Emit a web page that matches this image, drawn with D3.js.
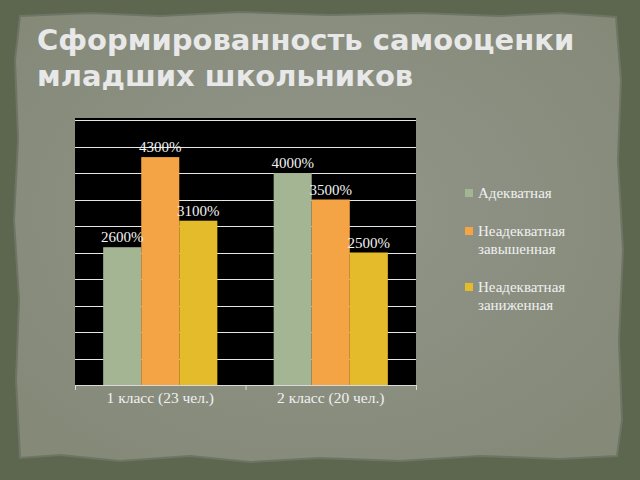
<!DOCTYPE html>
<html>
<head>
<meta charset="utf-8">
<script src="https://cdn.jsdelivr.net/npm/d3@7"></script>
<style>
  html, body { margin: 0; padding: 0; background: #5c654f; }
  svg { display: block; }
</style>
</head>
<body>
<div id="chart"></div>
<script>
const categories = ['1 класс (23 чел.)', '2 класс (20 чел.)'];
const seriesNames = ['Адекватная', 'Неадекватная завышенная', 'Неадекватная заниженная'];
const legendLines = [['Адекватная'], ['Неадекватная', 'завышенная'], ['Неадекватная', 'заниженная']];
const adequate = [26, 40];
const overrated = [43, 35];
const underrated = [31, 25];
const yTicks = [0, 5, 10, 15, 20, 25, 30, 35, 40, 45, 50];

const colors = ['#a3b592', '#f4a345', '#e3bb2b'];
const W = 640;
const H = 480;
const plot = { left: 75, right: 416, top: 120, bottom: 385 };

const svg = d3.select('#chart')
  .append('svg')
  .attr('width', W)
  .attr('height', H);

// slide background: dark frame + torn paper
const defs = svg.append('defs');
const grad = defs.append('radialGradient')
  .attr('id', 'paper')
  .attr('cx', '50%').attr('cy', '45%').attr('r', '65%');
grad.append('stop').attr('offset', '0%').attr('stop-color', '#92968b');
grad.append('stop').attr('offset', '100%').attr('stop-color', '#848978');

svg.append('rect')
  .attr('width', W).attr('height', H)
  .attr('fill', '#5d664f');

const paperEdge = 'M20,16 L90,13 L160,16 L240,12 L330,15 L420,13 L500,16 L560,13 L616,17 '
  + 'L621,80 L618,160 L623,250 L619,340 L622,420 L617,456 '
  + 'L560,459 L480,456 L400,461 L320,458 L250,462 L190,456 L120,461 L60,455 L20,458 '
  + 'L16,380 L19,300 L14,220 L18,140 L15,60 Z';
svg.append('path')
  .attr('d', paperEdge)
  .attr('fill', 'url(#paper)')
  .attr('stroke', '#6e7564')
  .attr('stroke-width', 2);

svg.append('text')
  .attr('x', 37)
  .attr('y', 50)
  .attr('fill', '#e8e8e8')
  .style('font-family', 'DejaVu Sans')
  .style('font-weight', 'bold')
  .style('font-size', '29px')
  .selectAll('tspan')
  .data(['Сформированность самооценки', 'младших школьников'])
  .enter()
  .append('tspan')
  .attr('x', 37)
  .attr('dy', (d, i) => (i === 0 ? 0 : 36))
  .text((d) => d);

const x0 = d3.scaleBand()
  .domain(categories)
  .range([plot.left, plot.right])
  .paddingInner(0)
  .paddingOuter(0);

const x1 = d3.scaleBand()
  .domain(seriesNames)
  .range([0, x0.bandwidth()])
  .paddingOuter(0.74)
  .paddingInner(0);

const y = d3.scaleLinear()
  .domain([0, 50])
  .range([plot.bottom, plot.top]);

svg.append('rect')
  .attr('x', plot.left)
  .attr('y', plot.top - 2)
  .attr('width', plot.right - plot.left)
  .attr('height', plot.bottom - plot.top + 2)
  .attr('fill', '#000');

svg.append('g')
  .selectAll('line')
  .data(yTicks.slice(1))
  .enter()
  .append('line')
  .attr('x1', plot.left)
  .attr('x2', plot.right)
  .attr('y1', (d) => Math.round(y(d)) + 0.5)
  .attr('y2', (d) => Math.round(y(d)) + 0.5)
  .attr('stroke', '#e6e6e6')
  .attr('stroke-width', 1);

const rows = categories.map((c, i) => ({
  category: c,
  values: [adequate[i], overrated[i], underrated[i]],
}));

const groups = svg.append('g')
  .selectAll('g')
  .data(rows)
  .enter()
  .append('g')
  .attr('transform', (d) => `translate(${x0(d.category)},0)`);

groups.selectAll('rect')
  .data((d) => d.values.map((v, j) => ({ name: seriesNames[j], value: v, j })))
  .enter()
  .append('rect')
  .attr('x', (d) => x1(d.name))
  .attr('y', (d) => y(d.value))
  .attr('width', x1.bandwidth())
  .attr('height', (d) => y(0) - y(d.value))
  .attr('fill', (d) => colors[d.j]);

groups.selectAll('text')
  .data((d) => d.values.map((v, j) => ({ name: seriesNames[j], value: v, j })))
  .enter()
  .append('text')
  .attr('x', (d) => x1(d.name) + x1.bandwidth() / 2)
  .attr('y', (d) => y(d.value) - 5)
  .attr('text-anchor', 'middle')
  .attr('fill', '#f2f2f2')
  .style('font-family', 'Liberation Serif')
  .style('font-size', '15px')
  .text((d) => `${d.value * 100}%`);

const xAxis = d3.axisBottom(x0)
  .tickSize(0)
  .tickPadding(7);

const axisG = svg.append('g')
  .attr('transform', `translate(0,${plot.bottom})`)
  .call(xAxis);
axisG.select('.domain').remove();
axisG.selectAll('text')
  .attr('fill', '#f0f0f0')
  .style('font-family', 'Liberation Serif')
  .style('font-size', '15.5px');

svg.append('line')
  .attr('x1', plot.left).attr('x2', plot.right)
  .attr('y1', plot.bottom + 0.5).attr('y2', plot.bottom + 0.5)
  .attr('stroke', '#d9d9d9');

svg.append('g')
  .selectAll('line')
  .data([plot.left, ...categories.map((c) => x0(c) + x0.bandwidth())])
  .enter()
  .append('line')
  .attr('x1', (d) => d + 0.5).attr('x2', (d) => d + 0.5)
  .attr('y1', plot.bottom).attr('y2', plot.bottom + 5)
  .attr('stroke', '#d9d9d9');

// legend: entries stacked, each one line-height per text line plus a gap
const lineH = 18;
const gap = 20;
let offset = 0;
const legendY = legendLines.map((lines) => {
  const yPos = offset;
  offset += lines.length * lineH + gap;
  return yPos;
});

const legend = svg.append('g')
  .attr('transform', 'translate(465,193)')
  .selectAll('g')
  .data(seriesNames)
  .enter()
  .append('g')
  .attr('transform', (d, i) => `translate(0,${legendY[i]})`);

legend.append('rect')
  .attr('x', 0)
  .attr('y', -4)
  .attr('width', 8)
  .attr('height', 8)
  .attr('fill', (d, i) => colors[i]);

legend.append('text')
  .attr('x', 13)
  .attr('y', 5)
  .attr('fill', '#f0f0f0')
  .style('font-family', 'Liberation Serif')
  .style('font-size', '15px')
  .selectAll('tspan')
  .data((d, i) => legendLines[i])
  .enter()
  .append('tspan')
  .attr('x', 13)
  .attr('dy', (d, i) => (i === 0 ? 0 : lineH))
  .text((d) => d);
</script>
</body>
</html>
